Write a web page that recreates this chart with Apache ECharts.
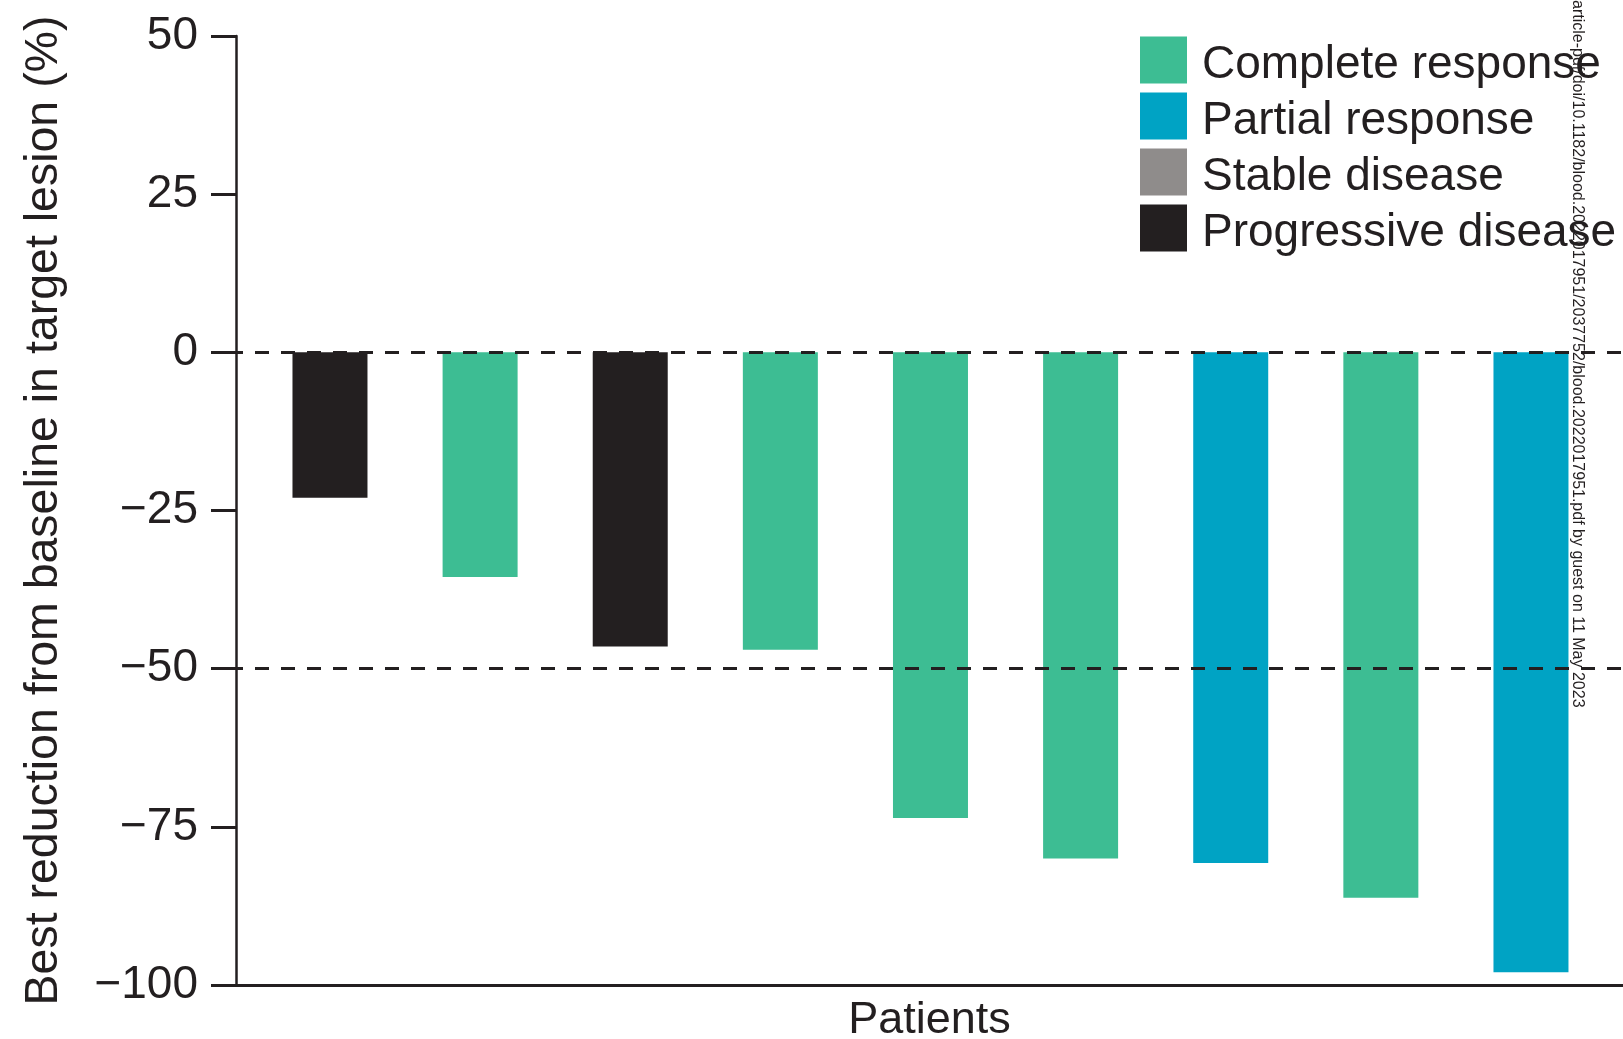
<!DOCTYPE html>
<html>
<head>
<meta charset="utf-8">
<title>Best reduction from baseline in target lesion</title>
<script src="https://cdn.jsdelivr.net/npm/echarts@6/dist/echarts.min.js"></script>
<style>
  html, body { margin: 0; padding: 0; background: #ffffff; overflow: hidden; }
  #chart { width: 1623px; height: 1039px; }
</style>
</head>
<body>
<div id="chart"></div>
<script>
// Patients in display order (x position 1..9)
const patients = [1, 2, 3, 4, 5, 6, 7, 8, 9];
// Best reduction from baseline in target lesion (%) per patient
const bestReduction = [-23, -35.5, -46.5, -47, -73.6, -80, -80.7, -86.2, -98];
// Best overall response per patient
const responses = ['PD', 'CR', 'PD', 'CR', 'CR', 'CR', 'PR', 'CR', 'PR'];
// Response categories shown in the legend
const responseCodes = ['CR', 'PR', 'SD', 'PD'];
const responseNames = ['Complete response', 'Partial response', 'Stable disease', 'Progressive disease'];
const responseColors = ['#3dbd93', '#00a3c4', '#8f8c8b', '#231f20'];
// Y axis ticks and reference lines
const yTicks = [-100, -75, -50, -25, 0, 25, 50];
const referenceLines = [0, -50];

const INK = '#231f20';
const FONT = '"Liberation Sans", Arial, Helvetica, sans-serif';

const fmtTick = v => (v < 0 ? '\u2212' + Math.abs(v) : String(v));

const barSeries = responseCodes.map((code, k) => ({
  name: responseNames[k],
  type: 'bar',
  z: 3,
  barWidth: 75,
  barGap: '-100%',
  itemStyle: { color: responseColors[k] },
  data: patients
    .map((p, i) => (responses[i] === code ? [p, bestReduction[i]] : null))
    .filter(d => d !== null)
}));

const chart = echarts.init(document.getElementById('chart'), null, { renderer: 'canvas' });
chart.setOption({
  animation: false,
  backgroundColor: '#ffffff',
  textStyle: { fontFamily: FONT },
  grid: {
    left: 236, right: 0, top: 36, bottom: 54,
    containLabel: false,
    outerBoundsMode: 'none'
  },
  legend: {
    data: responseNames,
    orient: 'vertical',
    left: 1140,
    top: 32,
    padding: 0,
    itemWidth: 47,
    itemHeight: 47,
    itemGap: 0,
    icon: 'rect',
    selectedMode: false,
    formatter: name => '{t|' + name + '}',
    textStyle: {
      fontFamily: FONT,
      fontSize: 46,
      color: INK,
      rich: {
        t: {
          fontFamily: FONT,
          fontSize: 46,
          color: INK,
          lineHeight: 47,
          padding: [10, 0, 0, 10]
        }
      }
    }
  },
  xAxis: {
    type: 'value',
    min: 0.374,
    max: 9.613,
    name: 'Patients',
    nameLocation: 'middle',
    nameGap: 13,
    nameTextStyle: { fontFamily: FONT, fontSize: 45, color: INK, verticalAlign: 'top' },
    axisLine: { show: true, onZero: false, lineStyle: { color: INK, width: 3 } },
    axisTick: { show: false },
    axisLabel: { show: false },
    splitLine: { show: false }
  },
  yAxis: {
    type: 'value',
    min: -100,
    max: 50,
    interval: 25,
    name: 'Best reduction from baseline in target lesion (%)',
    nameLocation: 'middle',
    nameGap: 168,
    nameTextStyle: { fontFamily: FONT, fontSize: 46.5, color: INK },
    axisLine: { show: true, onZero: false, lineStyle: { color: INK, width: 2.5 } },
    axisTick: { show: true, length: 25, lineStyle: { color: INK, width: 3 } },
    axisLabel: {
      margin: 38,
      fontFamily: FONT,
      fontSize: 46,
      color: INK,
      formatter: v => (yTicks.indexOf(v) >= 0 ? fmtTick(v) : '')
    },
    splitLine: { show: false }
  },
  series: [
    {
      name: 'reference',
      type: 'line',
      z: 1,
      data: [],
      silent: true,
      markLine: {
        silent: true,
        symbol: 'none',
        label: { show: false },
        lineStyle: { color: INK, width: 3, type: [14, 12], dashOffset: 7 },
        data: referenceLines.map(v => ({ yAxis: v }))
      }
    },
    ...barSeries
  ],
  graphic: [
    {
      type: 'text',
      x: 1585,
      y: 0,
      rotation: -Math.PI / 2,
      z: 10,
      style: {
        text: 'article-pdf/doi/10.1182/blood.2022017951/2037752/blood.2022017951.pdf by guest on 11 May 2023',
        font: '16px ' + FONT,
        fill: INK,
        textAlign: 'left',
        textVerticalAlign: 'top'
      }
    }
  ]
});
</script>
</body>
</html>
